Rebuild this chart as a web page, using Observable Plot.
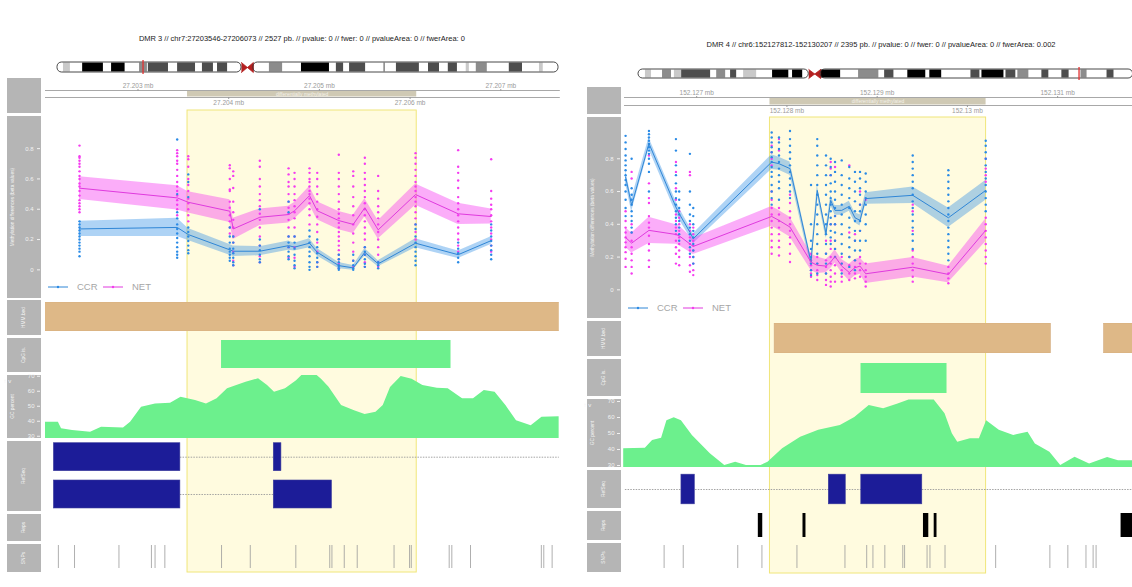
<!DOCTYPE html>
<html><head><meta charset="utf-8">
<script src="https://cdn.jsdelivr.net/npm/d3@7"></script>
<script src="https://cdn.jsdelivr.net/npm/@observablehq/plot@0.6"></script>
<style>
html,body{margin:0;padding:0;background:#fff;}
#root{position:relative;width:1132px;height:587px;overflow:hidden;font-family:"Liberation Sans",Arial,sans-serif;}
</style></head><body><div id="root"></div><script>
// ---------------- DATA ----------------
const L_title = "DMR 3 // chr7:27203546-27206073 // 2527 pb. // pvalue: 0 // fwer: 0 // pvalueArea: 0 // fwerArea: 0";
const R_title = "DMR 4 // chr6:152127812-152130207 // 2395 pb. // pvalue: 0 // fwer: 0 // pvalueArea: 0 // fwerArea: 0.002";
const groups = ["CCR", "NET"];
const trackLabels = ["Methylation differences (beta values)", "HMM.bed", "CpG is.", "GC percent", "RefSeq", "Reps", "SNPs"];
const dmrLabel = "differentially methylated";

const L_region = [27201980, 27207645];
const R_region = [152126200, 152131896];
const L_dmr = [27203546, 27206073];
const R_dmr = [152127812, 152130207];
const L_ticksTop = [27203000, 27205000, 27207000];
const L_ticksBottom = [27204000, 27206000];
const R_ticksTop = [152127000, 152129000, 152131000];
const R_ticksBottom = [152128000, 152130000];
const methTicks = [0, 0.2, 0.4, 0.6, 0.8];
const gcTicks = [30, 40, 50, 60, 70];

// chromosome ideograms (Mb)
const L_chromLen = 159.35, L_cen = [58.5, 62.3];
const R_chromLen = 170.8, R_cen = [58.8, 62.9];
const L_bands = [[1.9,4.1,"gpos25"],[8,14.6,"gpos100"],[17.2,21.5,"gpos100"],[26.1,28.6,"gpos50"],[28.9,35.3,"gpos75"],[38.2,43.9,"gpos75"],[46.1,49.6,"gpos75"],[50.9,54.1,"gpos75"],[67.4,71.6,"gpos50"],[77.6,86.5,"gpos100"],[88.7,91,"gpos75"],[92.9,98,"gpos75"],[103.8,104.3,"gpos50"],[107.8,115.1,"gpos75"],[118,121.5,"gpos75"],[124.3,127.2,"gpos75"],[130,131,"gpos25"],[133.2,136.7,"gpos50"],[143.7,147.9,"gpos75"],[153.3,154.5,"gpos25"]];
const R_bands = [[2.4,4.5,"gpos25"],[8.3,11.4,"gpos50"],[12.4,14.9,"gpos25"],[14.9,24.9,"gpos75"],[27,30.1,"gpos50"],[31.8,33.9,"gpos75"],[36.3,40.8,"gpos25"],[46.3,51.9,"gpos100"],[53.2,56.7,"gpos100"],[62.9,69.8,"gpos100"],[76,83,"gpos50"],[85,88.2,"gpos75"],[93,99.2,"gpos100"],[100.6,104.7,"gpos100"],[114.8,117.9,"gpos75"],[118.6,126.2,"gpos100"],[126.9,130.3,"gpos75"],[131,134.8,"gpos50"],[139.3,141.7,"gpos75"],[146.2,148.7,"gpos75"],[152.8,154.9,"gpos50"],[161.8,164.2,"gpos75"]];
const stainColors = {gpos25: "#c9c9c9", gpos50: "#8c8c8c", gpos75: "#4d4d4d", gpos100: "#000000"};

// methylation, left panel
const L_sites = [27202355,27203432,27203554,27204012,27204050,27204343,27204660,27204726,27204891,27204976,27205214,27205373,27205501,27205648,27206060,27206530,27206894];
const L_ccrMean = [0.27,0.28,0.233,0.132,0.123,0.123,0.16,0.15,0.176,0.116,0.028,0.013,0.116,0.04,0.176,0.10,0.193];
const L_ccrSE = [0.05,0.06,0.04,0.035,0.035,0.03,0.03,0.025,0.03,0.025,0.02,0.015,0.025,0.02,0.03,0.025,0.025];
const L_netMean = [0.539,0.475,0.446,0.387,0.27,0.347,0.365,0.39,0.49,0.39,0.325,0.30,0.41,0.264,0.497,0.37,0.352];
const L_netSE = [0.075,0.08,0.07,0.075,0.07,0.055,0.055,0.055,0.06,0.06,0.06,0.06,0.06,0.06,0.07,0.07,0.05];
const L_ccrPts = [
[0.32,0.30,0.28,0.26,0.24,0.22,0.20,0.18,0.16,0.14,0.12,0.09],
[0.86,0.50,0.38,0.34,0.30,0.27,0.24,0.21,0.18,0.15,0.12,0.10,0.08],
[0.63,0.58,0.48,0.28,0.25,0.22,0.19,0.16,0.13,0.11],
[0.28,0.22,0.18,0.14,0.12,0.10,0.08,0.06],
[0.22,0.18,0.14,0.11,0.08,0.05,0.03],
[0.40,0.20,0.16,0.13,0.10,0.07,0.05],
[0.45,0.38,0.22,0.18,0.15,0.12,0.09,0.07],
[0.22,0.18,0.14,0.10,0.06,0.03,0.01],
[0.26,0.22,0.18,0.15,0.12,0.09,0.05,0.02,0.0],
[0.20,0.15,0.11,0.08,0.05,0.02],
[0.10,0.07,0.05,0.03,0.02,0.01,0.0],
[0.10,0.06,0.03,0.01,0.0],
[0.15,0.12,0.10,0.07,0.04,0.02],
[0.05,0.03,0.01],
[0.30,0.27,0.22,0.18,0.15,0.12,0.09,0.06,0.03],
[0.18,0.14,0.11,0.08,0.05],
[0.30,0.26,0.22,0.19,0.16,0.13,0.10,0.07]];
const L_netPts = [
[0.82,0.75,0.74,0.72,0.70,0.68,0.65,0.62,0.60,0.57,0.55,0.52,0.49,0.46,0.44,0.42,0.40,0.38],
[0.79,0.77,0.75,0.72,0.70,0.66,0.62,0.58,0.55,0.52,0.49,0.46,0.43,0.40,0.36],
[0.75,0.73,0.68,0.60,0.56,0.52,0.47,0.44,0.40,0.36,0.32],
[0.69,0.67,0.60,0.53,0.52,0.45,0.41,0.36,0.32,0.28,0.24],
[0.65,0.62,0.54,0.45,0.38,0.33,0.28,0.22,0.18,0.12,0.06,0.03],
[0.72,0.68,0.60,0.55,0.50,0.46,0.42,0.37,0.33,0.28,0.22,0.16,0.09,0.05],
[0.67,0.63,0.58,0.55,0.50,0.45,0.41,0.37,0.33,0.28,0.22,0.15,0.08],
[0.64,0.60,0.55,0.50,0.46,0.42,0.38,0.34,0.28,0.22,0.15,0.08,0.02],
[0.67,0.64,0.60,0.58,0.55,0.52,0.50,0.47,0.44,0.40,0.36,0.30],
[0.64,0.60,0.55,0.50,0.45,0.40,0.35,0.30,0.25,0.18,0.12,0.05,0.02],
[0.76,0.64,0.60,0.55,0.50,0.45,0.40,0.37,0.34,0.31,0.28,0.25,0.22,0.19,0.16,0.13,0.10,0.07,0.04,0.01],
[0.65,0.62,0.55,0.48,0.42,0.36,0.30,0.24,0.18,0.12,0.06,0.02],
[0.74,0.70,0.64,0.60,0.56,0.52,0.48,0.44,0.40,0.36,0.32,0.28,0.24,0.20,0.15,0.10,0.05,0.02],
[0.62,0.52,0.47,0.42,0.38,0.34,0.30,0.25,0.20,0.15,0.10,0.05,0.02],
[0.77,0.74,0.70,0.66,0.62,0.58,0.55,0.52,0.48,0.45,0.42,0.38,0.34,0.30,0.25,0.20],
[0.79,0.68,0.64,0.59,0.54,0.48,0.44,0.40,0.36,0.32,0.28,0.24,0.20,0.16,0.12],
[0.73,0.52,0.47,0.43,0.40,0.36,0.32,0.28,0.24,0.20,0.16,0.12]];

// methylation, right panel
const R_sites = [152126212,152126279,152126471,152126770,152126806,152126925,152126962,152127831,152127912,152128034,152128267,152128336,152128433,152128485,152128533,152128607,152128691,152128754,152128810,152128873,152129394,152129789,152130203];
const R_ccrMean = [0.689,0.516,0.893,0.505,0.465,0.352,0.312,0.78,0.77,0.74,0.169,0.607,0.343,0.546,0.485,0.485,0.51,0.44,0.424,0.557,0.577,0.44,0.607];
const R_ccrSE = [0.04,0.04,0.035,0.035,0.035,0.03,0.03,0.045,0.04,0.04,0.03,0.03,0.03,0.03,0.03,0.03,0.03,0.03,0.035,0.035,0.05,0.06,0.06];
const R_netMean = [0.32,0.285,0.363,0.338,0.33,0.28,0.265,0.448,0.424,0.383,0.169,0.15,0.145,0.17,0.204,0.145,0.106,0.135,0.145,0.098,0.138,0.094,0.363];
const R_netSE = [0.06,0.06,0.08,0.06,0.06,0.05,0.05,0.06,0.06,0.06,0.05,0.05,0.04,0.04,0.04,0.04,0.05,0.05,0.05,0.06,0.06,0.05,0.07];
const R_ccrPts = [
[0.94,0.90,0.86,0.82,0.79,0.76,0.73,0.70,0.67,0.64,0.60,0.55,0.50,0.45],
[0.80,0.62,0.58,0.55,0.52,0.48,0.45,0.42,0.38,0.35],
[0.97,0.95,0.93,0.91,0.89,0.87,0.85,0.83,0.80,0.77,0.72,0.60],
[0.92,0.85,0.76,0.70,0.65,0.60,0.56,0.52,0.48,0.44,0.40,0.36],
[0.60,0.55,0.50,0.46,0.42,0.38,0.34,0.30],
[0.83,0.60,0.52,0.46,0.42,0.38,0.34,0.30,0.26,0.22],
[0.50,0.45,0.40,0.36,0.32,0.28,0.24,0.20,0.16],
[0.96,0.93,0.90,0.87,0.84,0.81,0.78,0.75,0.72,0.69,0.64,0.60,0.56,0.52],
[0.93,0.90,0.86,0.82,0.78,0.74,0.70,0.66,0.62,0.55],
[0.97,0.92,0.88,0.84,0.80,0.76,0.72,0.68,0.64,0.60,0.56],
[0.64,0.40,0.30,0.25,0.20,0.16,0.12,0.09],
[0.92,0.88,0.82,0.76,0.70,0.64,0.58,0.52,0.46,0.40,0.34,0.28,0.22,0.16,0.10],
[0.82,0.76,0.70,0.64,0.58,0.52,0.46,0.40,0.34,0.28,0.22,0.16,0.10],
[0.80,0.75,0.70,0.65,0.60,0.56,0.52,0.48,0.44,0.40,0.36,0.32,0.28],
[0.78,0.72,0.66,0.60,0.55,0.50,0.45,0.40,0.35,0.30,0.25,0.20],
[0.79,0.70,0.64,0.58,0.52,0.46,0.40,0.34,0.28,0.22,0.16,0.10],
[0.75,0.68,0.62,0.56,0.50,0.44,0.38,0.32,0.26,0.20,0.14],
[0.72,0.66,0.60,0.54,0.48,0.42,0.36,0.30,0.24,0.18,0.12],
[0.72,0.68,0.62,0.58,0.52,0.48,0.42,0.36,0.30,0.24],
[0.71,0.66,0.60,0.56,0.52,0.46,0.40,0.30],
[0.82,0.78,0.74,0.70,0.66,0.62,0.58,0.54,0.50,0.46,0.42,0.38,0.34,0.30,0.25],
[0.73,0.70,0.66,0.62,0.58,0.54,0.50,0.46,0.42,0.38,0.34,0.30,0.26,0.22,0.18],
[0.91,0.88,0.84,0.80,0.76,0.72,0.68,0.64,0.60,0.56,0.52,0.48]];
const R_netPts = [
[0.48,0.42,0.38,0.35,0.32,0.29,0.26,0.23,0.19,0.14],
[0.72,0.68,0.40,0.35,0.30,0.26,0.22,0.18,0.14,0.10],
[0.82,0.65,0.56,0.53,0.45,0.41,0.38,0.33,0.28,0.24,0.18,0.14],
[0.78,0.72,0.62,0.55,0.46,0.42,0.38,0.34,0.30,0.26,0.22,0.16],
[0.48,0.44,0.40,0.36,0.32,0.28,0.24,0.20,0.15],
[0.72,0.70,0.40,0.36,0.32,0.28,0.24,0.20,0.15,0.11],
[0.38,0.34,0.30,0.27,0.24,0.20,0.16,0.12,0.09],
[0.88,0.84,0.80,0.76,0.60,0.55,0.50,0.46,0.42,0.38,0.34,0.30,0.26,0.22],
[0.92,0.85,0.50,0.46,0.42,0.38,0.34,0.30,0.26,0.21],
[0.58,0.53,0.48,0.44,0.40,0.36,0.32,0.28,0.22,0.17],
[0.22,0.18,0.15,0.12,0.10,0.08],
[0.20,0.16,0.12,0.09,0.06],
[0.30,0.22,0.18,0.14,0.10,0.06,0.03],
[0.78,0.74,0.70,0.40,0.30,0.25,0.20,0.16,0.12,0.08,0.05,0.02],
[0.75,0.45,0.40,0.30,0.25,0.20,0.15,0.10,0.05],
[0.20,0.16,0.12,0.08,0.05],
[0.76,0.35,0.20,0.15,0.10,0.06],
[0.34,0.30,0.18,0.14,0.10,0.07],
[0.60,0.52,0.36,0.20,0.16,0.12,0.08],
[0.55,0.16,0.12,0.08,0.05,0.02],
[0.52,0.48,0.36,0.24,0.20,0.16,0.12,0.08,0.05],
[0.14,0.10,0.07,0.04],
[0.80,0.74,0.70,0.66,0.44,0.40,0.36,0.32,0.28,0.24,0.20,0.16]];

// annotation tracks
const L_hmm = [[27201900, 27207700]];
const R_hmm = [[152127864, 152130925], [152131515, 152131960]];
const L_cpg = [[27203921, 27206451]];
const R_cpg = [[152128821, 152129774]];
const L_gcPos = [27201980,27202122,27202157,27202278,27202477,27202598,27202840,27202918,27203039,27203193,27203359,27203474,27203634,27203755,27203872,27203987,27204191,27204329,27204428,27204505,27204626,27204748,27204825,27204946,27205023,27205106,27205244,27205387,27205504,27205624,27205704,27205784,27205902,27206022,27206141,27206300,27206420,27206578,27206699,27206818,27206937,27207056,27207173,27207335,27207454,27207645];
const L_gcVal = [39.3,39.3,35,33.8,32.7,36,35.5,39.3,49.3,51.5,52,56,53.8,51.5,55,61.6,66,68.3,63.8,59.3,61.6,67,71.6,72,68,62.6,50.5,47,44.5,46,50.5,62.5,69.8,68,63.8,62,61.6,55,55,60.5,59.3,50.5,40.3,37,42.7,43];
const R_gcPos = [152126191,152126431,152126511,152126611,152126670,152126751,152126831,152126952,152127151,152127311,152127432,152127551,152127712,152127790,152127952,152128152,152128352,152128592,152128752,152128912,152129072,152129231,152129353,152129632,152129752,152129833,152129893,152130033,152130133,152130213,152130353,152130513,152130672,152130753,152130914,152131034,152131193,152131354,152131554,152131674,152131825,152131914];
const R_gcVal = [40.4,40.8,45.6,47,58,59.8,58,48.8,37.3,30,32,30,30,32,40.4,47.7,52,55,60,67.5,65.4,68.5,71,71,62.3,49.8,44.6,46.7,46.7,58,52,48.8,50.8,43.5,38.3,30,35.2,31,35,33,33,33];
const L_exons = [[1,27202073,27203467],[1,27204497,27204581],[2,27202073,27203467],[2,27204497,27205138]];
const L_introns = [[1,27203467,27207700],[2,27203467,27204497]];
const R_exons = [[1,152126831,152126979],[1,152128464,152128652],[1,152128824,152129500]];
const R_introns = [[1,152126150,152131960]];
const L_reps = [];
const R_reps = [[152127683,152127732],[152128178,152128211],[152129513,152129572],[152129632,152129663],[152131703,152131960]];
const L_snps = [27202122,27202300,27202790,27203148,27203188,27203296,27203921,27204238,27204740,27205114,27205138,27205274,27205417,27205823,27205994,27206013,27206431,27206460,27206666,27207447,27207474,27207566];
const R_snps = [152126639,152126851,152127455,152127723,152128111,152128643,152128884,152128953,152129085,152129284,152129304,152129553,152129585,152129752,152130313,152130914,152131113,152131314,152131393,152131426];

// ---------------- STYLE / LAYOUT ----------------
const FONT = "'Liberation Sans', Arial, sans-serif";
const COL = {ccr: "#2a8be6", ccrLine: "#2f86d6", net: "#f53cf0", netLine: "#e03ade",
  hmm: "#deb887", green: "#6cf08d", gene: "#1c1c98", grey: "#b5b5b5", hlFill: "#fffbdf", hlStroke: "#f0e67a", dmrBar: "#cfc9b4"};
const PANELS = {
  L: {left: 0, w: 566, x0: 45, x1: 558.8, axisX: 40, titleY: 39, region: L_region, dmr: L_dmr,
      ideo: {top: 62, h: 10, x0: 57, x1: 558}, axis: {top: 82, h: 24, mt: 8, mb: 9}, hl: {top: 110, h: 462},
      boxes: [[78,113],[116,298],[300,335],[338,372],[375,438],[441,511],[514,541],[544,572]],
      meth: {top: 116, h: 182, dom: [-0.189, 1.012]}, legendY: 287,
      hmm: {top: 302, h: 29}, cpg: {top: 340, h: 28}, gc: {top: 375, h: 63, dom: [28.5, 70.5]},
      refseq: {top: 441, h: 70, dom: [2.456, 0.579], half: 0.375}, reps: {top: 516, h: 23}, snps: {top: 545, h: 23}},
  R: {left: 580, w: 566, x0: 44, x1: 558, axisX: 40, titleY: 45, region: R_region, dmr: R_dmr,
      ideo: {top: 69, h: 9, x0: 58, x1: 552.6}, axis: {top: 89, h: 25, mt: 8, mb: 9}, hl: {top: 117, h: 456},
      boxes: [[87,114],[117,318],[321,356],[359,396],[399,467],[470,508],[511,540],[543,572]],
      meth: {top: 117, h: 201, dom: [-0.175, 1.052]}, legendY: 308,
      hmm: {top: 323, h: 30}, cpg: {top: 363, h: 30}, gc: {top: 399, h: 68, dom: [28.75, 71.25]},
      refseq: {top: 470, h: 38, dom: [1.5, 0.5], half: 0.39}, reps: {top: 513, h: 24}, snps: {top: 545, h: 23}}
};

const root = document.getElementById("root");
function place(svg, left, top, z) {
  svg.style.position = "absolute"; svg.style.left = left + "px"; svg.style.top = top + "px"; svg.style.zIndex = z;
  root.appendChild(svg);
}
function track(P, cfg, opts, z = 3) {
  const svg = Plot.plot(Object.assign({
    width: P.w, height: cfg.h, marginTop: 0, marginBottom: 0, marginLeft: P.x0, marginRight: P.w - P.x1,
    x: {domain: P.region, range: [P.x0, P.x1], axis: null},
    style: {background: "transparent", overflow: "visible", fontFamily: FONT}
  }, opts));
  place(svg, P.left, cfg.top, z);
}
const fmtMb = d => parseFloat((d / 1e6).toFixed(3)) + " mb";

function drawPanel(P, D) {
  // yellow highlight behind tracks
  track(P, P.hl, {marks: [Plot.rect([P.dmr], {x1: d => d[0], x2: d => d[1], fill: COL.hlFill, stroke: COL.hlStroke, strokeWidth: 1})]}, 1);

  // ideogram
  const arms = [[0, D.cen[0]], [D.cen[1], D.chromLen]];
  const bow = [{x: D.cen[0], y: 1}, {x: D.cen[1], y: 0}, {x: D.cen[1], y: 1}, {x: D.cen[0], y: 0}];
  const mid = (P.dmr[0] + P.dmr[1]) / 2e6;
  track(P, P.ideo, {
    marginLeft: P.ideo.x0 - 2, marginRight: P.w - P.ideo.x1 - 2,
    x: {domain: [0, D.chromLen], range: [P.ideo.x0, P.ideo.x1], axis: null},
    y: {domain: [0, 1], axis: null},
    marks: [
      Plot.rect(arms, {x1: d => d[0], x2: d => d[1], fill: "white", rx: 4.5}),
      Plot.rect(D.bands, {x1: d => d[0], x2: d => d[1], fill: d => stainColors[d[2]], insetTop: 0.5, insetBottom: 0.5}),
      Plot.line(bow, {x: "x", y: "y", fill: "#b42020", stroke: "#b42020", strokeWidth: 0.8}),
      Plot.rect(arms, {x1: d => d[0], x2: d => d[1], fill: "none", stroke: "#333", strokeWidth: 0.9, rx: 4.5}),
      Plot.ruleX([mid], {stroke: "#e23030", strokeWidth: 1.3, insetTop: -2, insetBottom: -2})
    ]
  });

  // genome axis
  track(P, P.axis, {
    marginTop: P.axis.mt, marginBottom: P.axis.mb,
    x: {domain: P.region, range: [P.x0, P.x1]},
    marks: [
      Plot.rect([P.dmr], {x1: d => d[0], x2: d => d[1], fill: COL.dmrBar, insetTop: 1, insetBottom: 0.5}),
      Plot.text([P.dmr], {x: d => (d[0] + d[1]) / 2, text: () => dmrLabel, frameAnchor: "middle", fill: "#f4f2ea", fontSize: 5}),
      Plot.frame({anchor: "top", stroke: "#a8a8a8"}),
      Plot.frame({anchor: "bottom", stroke: "#a8a8a8"}),
      Plot.axisX(D.ticksTop, {anchor: "top", tickSize: 2, tickPadding: 1, fontSize: 6.5, color: "#9a9a9a", tickFormat: fmtMb}),
      Plot.axisX(D.ticksBottom, {anchor: "bottom", tickSize: 2, tickPadding: 1, fontSize: 6.5, color: "#9a9a9a", tickFormat: fmtMb})
    ]
  });

  // methylation
  const band = (means, ses) => D.sites.map((pos, i) => ({pos, mean: means[i], lo: means[i] - ses[i], hi: means[i] + ses[i]}));
  const pts = (arr) => D.sites.flatMap((pos, i) => arr[i].map(v => ({pos, v})));
  const ccr = band(D.ccrMean, D.ccrSE), net = band(D.netMean, D.netSE);
  track(P, P.meth, {
    marginLeft: P.axisX,
    y: {domain: P.meth.dom},
    marks: [
      Plot.areaY(ccr, {x: "pos", y1: "lo", y2: "hi", fill: COL.ccr, fillOpacity: 0.38}),
      Plot.areaY(net, {x: "pos", y1: "lo", y2: "hi", fill: COL.net, fillOpacity: 0.42}),
      Plot.dot(pts(D.netPts), {x: "pos", y: "v", r: 1.2, fill: COL.net}),
      Plot.dot(pts(D.ccrPts), {x: "pos", y: "v", r: 1.2, fill: COL.ccr}),
      Plot.line(ccr, {x: "pos", y: "mean", stroke: COL.ccrLine, strokeWidth: 1}),
      Plot.line(net, {x: "pos", y: "mean", stroke: COL.netLine, strokeWidth: 1}),
      Plot.axisY(methTicks, {anchor: "left", tickSize: 3, tickPadding: 4, fontSize: 6, color: "#f2f2f2", tickFormat: d => String(d)})
    ]
  });

  // HMM
  track(P, P.hmm, {marks: [Plot.rect(D.hmm, {x1: d => d[0], x2: d => d[1], fill: COL.hmm, stroke: "#d2aa7c", strokeWidth: 0.6})], clip: true});
  // CpG islands
  track(P, P.cpg, {marks: [Plot.rect(D.cpg, {x1: d => d[0], x2: d => d[1], fill: COL.green})], clip: true});
  // GC percent
  const gc = D.gcPos.map((pos, i) => ({pos, v: D.gcVal[i]}));
  track(P, P.gc, {
    marginLeft: P.axisX, clip: true,
    y: {domain: P.gc.dom},
    marks: [
      Plot.areaY(gc, {x: "pos", y1: P.gc.dom[0], y2: "v", fill: COL.green}),
      Plot.axisY(gcTicks, {anchor: "left", tickSize: 3, tickPadding: 3, fontSize: 6, color: "#f2f2f2"})
    ]
  });
  // RefSeq
  const H = P.refseq.half;
  track(P, P.refseq, {
    clip: true,
    y: {domain: P.refseq.dom, axis: null},
    marks: [
      Plot.ruleY(D.introns, {y: d => d[0], x1: d => d[1], x2: d => d[2], stroke: "#9a9a9a", strokeWidth: 0.9, strokeDasharray: "1.5,1.2"}),
      Plot.rect(D.exons, {x1: d => d[1], x2: d => d[2], y1: d => d[0] - H, y2: d => d[0] + H, fill: COL.gene, stroke: "#3a3a9a", strokeWidth: 0.6})
    ]
  });
  // Repeats
  track(P, P.reps, {clip: true, marks: [Plot.rect(D.reps, {x1: d => d[0], x2: d => d[1], fill: "#000"})]});
  // SNPs
  track(P, P.snps, {marks: [Plot.ruleX(D.snps, {stroke: "#9a9a9a", strokeWidth: 0.8})]});
}

drawPanel(PANELS.L, {chromLen: L_chromLen, cen: L_cen, bands: L_bands, ticksTop: L_ticksTop, ticksBottom: L_ticksBottom,
  sites: L_sites, ccrMean: L_ccrMean, ccrSE: L_ccrSE, netMean: L_netMean, netSE: L_netSE, ccrPts: L_ccrPts, netPts: L_netPts,
  hmm: L_hmm, cpg: L_cpg, gcPos: L_gcPos, gcVal: L_gcVal, exons: L_exons, introns: L_introns, reps: L_reps, snps: L_snps});
drawPanel(PANELS.R, {chromLen: R_chromLen, cen: R_cen, bands: R_bands, ticksTop: R_ticksTop, ticksBottom: R_ticksBottom,
  sites: R_sites, ccrMean: R_ccrMean, ccrSE: R_ccrSE, netMean: R_netMean, netSE: R_netSE, ccrPts: R_ccrPts, netPts: R_netPts,
  hmm: R_hmm, cpg: R_cpg, gcPos: R_gcPos, gcVal: R_gcVal, exons: R_exons, introns: R_introns, reps: R_reps, snps: R_snps});

// ---------------- decorations: title panels, titles, legends ----------------
const deco = d3.create("svg").attr("width", 1132).attr("height", 587)
  .style("position", "absolute").style("left", "0px").style("top", "0px").style("z-index", 2)
  .style("font-family", FONT);
[[PANELS.L, L_title], [PANELS.R, R_title]].forEach(([P, title]) => {
  const g = deco.append("g").attr("transform", `translate(${P.left},0)`);
  g.append("text").attr("x", (P.x0 + P.x1) / 2).attr("y", P.titleY).attr("text-anchor", "middle")
    .attr("dominant-baseline", "middle").attr("font-size", 7.5).attr("fill", "#222").text(title);
  P.boxes.forEach(([y0, y1], i) => {
    g.append("rect").attr("x", 7).attr("y", y0).attr("width", 34).attr("height", y1 - y0).attr("fill", COL.grey);
    if (i > 0) {
      const lx = (i === 1 || i === 4) ? 13 : 24;
      g.append("text").attr("transform", `translate(${lx},${(y0 + y1) / 2}) rotate(-90)`)
        .attr("text-anchor", "middle").attr("dominant-baseline", "middle").attr("font-size", 4.8)
        .attr("fill", "#f4f4f4").text(trackLabels[i - 1]);
    }
  });
  // legend
  const cols = [[COL.ccrLine, COL.ccr], [COL.netLine, COL.net]];
  groups.forEach((name, i) => {
    const lx = 48 + i * 55, ly = P.legendY;
    g.append("line").attr("x1", lx).attr("x2", lx + 20).attr("y1", ly).attr("y2", ly).attr("stroke", cols[i][0]).attr("stroke-width", 1);
    g.append("circle").attr("cx", lx + 10).attr("cy", ly).attr("r", 1.2).attr("fill", cols[i][1]);
    g.append("text").attr("x", lx + 29).attr("y", ly).attr("dominant-baseline", "middle").attr("font-size", 9.5)
      .attr("fill", "#a6a6a6").text(name);
  });
});
root.appendChild(deco.node());
</script></body></html>
